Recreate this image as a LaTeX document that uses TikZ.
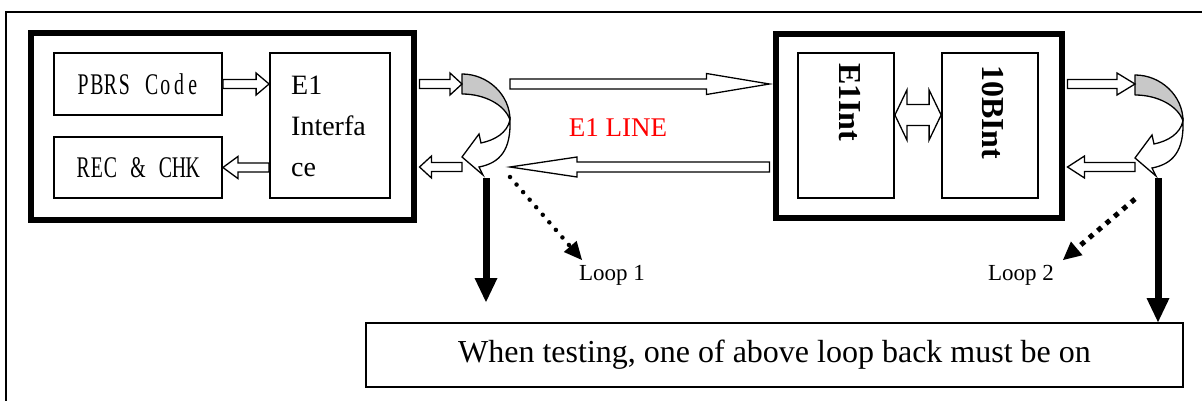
\documentclass[tikz,border=0pt]{standalone}
\usepackage{fontspec}
\setmainfont{Liberation Serif}
\newfontfamily\condserif[FakeStretch=0.66]{Liberation Serif}
\usetikzlibrary{arrows.meta,calc}
\newcommand\mcell[1]{\makebox[13.7pt]{#1}}
\definecolor{bandgray}{RGB}{200,200,200}
\begin{document}
\begin{tikzpicture}[x=1pt,y=-1pt,
  tbox/.style={draw, line width=1.8pt, inner sep=0pt},
  kbox/.style={draw, line width=6pt, inner sep=0pt},
  monotext/.style={font=\condserif\fontsize{30pt}{32pt}\selectfont},
  hollow/.style={draw, fill=white, line width=1.3pt, line join=miter},
  blk/.style n args={3}{to path={let \p1=(\tikztostart), \p2=(\tikztotarget), \n1={sign(\x2-\x1)} in
      (\x1,\y1-#3) -- (\x1,\y1+#3) -- ({\x2-\n1*#1},\y1+#3) -- ({\x2-\n1*#1},\y1+#2) -- (\x2,\y1)
      -- ({\x2-\n1*#1},\y1-#2) -- ({\x2-\n1*#1},\y1-#3) -- cycle}},
  dblk/.style={to path={let \p1=(\tikztostart), \p2=(\tikztotarget) in
      (\x1,\y1) -- (\x1+12pt,\y1+25pt) -- (\x1+12pt,\y1+10.5pt) -- (\x2-12pt,\y1+10.5pt) -- (\x2-12pt,\y1+25pt)
      -- (\x2,\y1) -- (\x2-12pt,\y1-25pt) -- (\x2-12pt,\y1-10.5pt) -- (\x1+12pt,\y1-10.5pt) -- (\x1+12pt,\y1-25pt) -- cycle}},
  downarrow/.style={line width=7pt, -{Triangle[length=24pt,width=23pt,line width=0pt]}},
  looplabel/.style={font=\fontsize{23pt}{23pt}\selectfont, inner sep=0pt, anchor=base},
  vtext/.style={font=\bfseries\fontsize{32pt}{32pt}\selectfont, rotate=-90, inner sep=0pt, anchor=west},
  loopcurve/.pic={
    \draw[line width=1.3pt, fill=bandgray, line join=round]
      (0,0) .. controls (26,0) and (48,21) .. (48,46) .. controls (43,31) and (23,20) .. (0,20) -- cycle;
    \draw[line width=1.3pt, fill=white, line join=miter]
      (48,46) .. controls (49,76) and (38,89) .. (17,93) -- (21,101) -- (0,83) -- (17,60) -- (19,69)
      .. controls (33,66) and (45,59) .. (48,46) -- cycle;
  }]
\useasboundingbox (0,0) rectangle (1202,401);
% outer frame (cut by the page edge)
\begin{scope}
  \clip (0,0) rectangle (1202,401);
  \draw[line width=1.5pt] (6,12) rectangle (1230,430);
\end{scope}

% left unit
\node[kbox, minimum width=383pt, minimum height=186.5pt] (leftbox) at (222,126.25) {};
\node[tbox, monotext, minimum width=168pt, minimum height=62pt] (pbrs) at (138,84)
  {\mcell{P}\mcell{B}\mcell{R}\mcell{S}\mcell{}\mcell{C}\mcell{o}\mcell{d}\mcell{e}};
\node[tbox, monotext, minimum width=168pt, minimum height=61pt] (rec) at (138,167.5)
  {\mcell{R}\mcell{E}\mcell{C}\mcell{}\mcell{\&}\mcell{}\mcell{C}\mcell{H}\mcell{K}};
\node[tbox, minimum width=120pt, minimum height=145pt] (e1if) at (330,125.5) {};
\node[inner sep=0pt, anchor=north west, align=left, font=\fontsize{28pt}{41pt}\selectfont] (e1iftext) at (291,76)
  {E1\\Interfa\\ce};

% right unit
\node[kbox, minimum width=286pt, minimum height=184pt] (rightbox) at (918.5,126.4) {};
\node[tbox, minimum width=96pt, minimum height=145.3pt] (e1int) at (846,125.35) {};
\node[tbox, minimum width=96pt, minimum height=145.3pt] (tenb) at (990,125.35) {};
\node[vtext] (e1inttext) at (850,63) {E1Int};
\node[vtext] (tenbtext) at (993,65) {10BInt};

% bottom note
\node[tbox, minimum width=817pt, minimum height=64pt, font=\fontsize{32pt}{32pt}\selectfont] (note) at (774.5,355)
  {When testing, one of above loop back must be on};

% labels
\node[font=\fontsize{27pt}{27pt}\selectfont, text=red, inner sep=0pt, anchor=base] (e1line) at (618,137) {E1 LINE};
\node[looplabel] (loop1) at (612,280) {Loop 1};
\node[looplabel] (loop2) at (1021,280) {Loop 2};

% loop-back curved arrows
\pic at (462,74) {loopcurve};
\pic at (1135,75) {loopcurve};
\coordinate (c1in) at (462,84);
\coordinate (c1out) at (462,167);
\coordinate (c2in) at (1135,84);
\coordinate (c2out) at (1135,167);
\coordinate (lnS) at (510,84);
\coordinate (lnE) at (510,167);
\coordinate (dbl) at (918,115);

% hollow block arrows
\draw[hollow] (pbrs.east) to[blk={13pt}{11pt}{4.5pt}] (e1if.west |- pbrs.east);
\draw[hollow] (e1if.west |- rec.east) to[blk={15pt}{11pt}{4.5pt}] (rec.east);
\draw[hollow] ([xshift=3pt]leftbox.east |- c1in) to[blk={12pt}{11pt}{4.5pt}] (c1in);
\draw[hollow] (c1out) to[blk={12pt}{11pt}{4.5pt}] ([xshift=3pt]leftbox.east |- c1out);
\draw[hollow] (lnS) to[blk={63pt}{10.5pt}{5pt}] ([xshift=-3pt]rightbox.west |- lnS);
\draw[hollow] ([xshift=-3pt]rightbox.west |- lnE) to[blk={67pt}{10pt}{5pt}] (lnE);
\draw[hollow] ([xshift=3pt]rightbox.east |- c2in) to[blk={18pt}{11pt}{4.5pt}] (c2in);
\draw[hollow] (c2out) to[blk={17pt}{11pt}{4.5pt}] ([xshift=3pt]rightbox.east |- c2out);
\draw[hollow] (e1int.east |- dbl) to[dblk] (tenb.west |- dbl);

% down arrows
\coordinate (d1s) at (486,178);
\coordinate (d1e) at (486,302);
\coordinate (d2s) at (1158,178);
\draw[downarrow] (d1s) -- (d1e);
\draw[downarrow] (d2s) -- (d2s |- note.north);

% dotted loop arrows
\coordinate (l1s) at (510,177);
\coordinate (l1e) at (582,260);
\coordinate (l2s) at (1135,199);
\coordinate (l2e) at (1063,260);
\draw[line width=4.5pt, line cap=round, dash pattern=on 0pt off 10pt,
  -{Triangle[length=18pt,width=17pt,line width=0pt]}] (l1s) -- (l1e);
\draw[line width=5pt, dash pattern=on 5pt off 6pt,
  -{Triangle[length=18pt,width=18pt,line width=0pt]}] (l2s) -- (l2e);
\end{tikzpicture}
\end{document}
